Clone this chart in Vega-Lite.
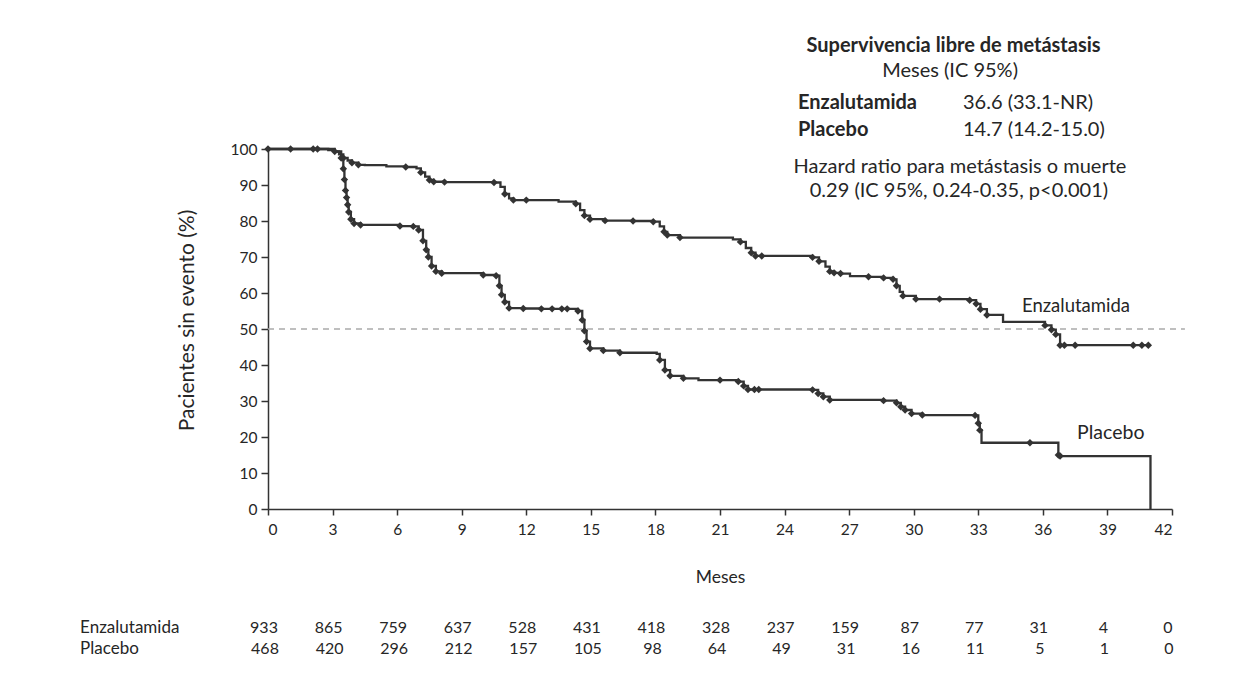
{
  "$schema": "https://vega.github.io/schema/vega-lite/v6.json",
  "width": 904,
  "height": 360,
  "autosize": {"type": "none"},
  "padding": {"left": 268, "top": 149, "right": 86, "bottom": 171},
  "background": "white",
  "config": {"view": {"stroke": null}, "font": "Lato", "text": {"font": "Lato", "color": "#262626", "fontSize": 16, "baseline": "middle"}},
  "datasets": {
    "km": [
      {"group": "Enzalutamida", "t": 0, "s": 100, "c": 1},
      {"group": "Enzalutamida", "t": 1.05, "s": 100, "c": 1},
      {"group": "Enzalutamida", "t": 2.1, "s": 100, "c": 1},
      {"group": "Enzalutamida", "t": 2.3, "s": 100, "c": 1},
      {"group": "Enzalutamida", "t": 2.8, "s": 99.7, "c": 0},
      {"group": "Enzalutamida", "t": 3.1, "s": 99.3, "c": 1},
      {"group": "Enzalutamida", "t": 3.3, "s": 98.5, "c": 0},
      {"group": "Enzalutamida", "t": 3.5, "s": 97.5, "c": 1},
      {"group": "Enzalutamida", "t": 3.7, "s": 96.8, "c": 0},
      {"group": "Enzalutamida", "t": 3.9, "s": 96.2, "c": 1},
      {"group": "Enzalutamida", "t": 4.2, "s": 95.6, "c": 1},
      {"group": "Enzalutamida", "t": 4.5, "s": 95.5, "c": 0},
      {"group": "Enzalutamida", "t": 5.5, "s": 95.2, "c": 0},
      {"group": "Enzalutamida", "t": 6.4, "s": 95.0, "c": 1},
      {"group": "Enzalutamida", "t": 6.9, "s": 94.6, "c": 0},
      {"group": "Enzalutamida", "t": 7.1, "s": 93.5, "c": 1},
      {"group": "Enzalutamida", "t": 7.3, "s": 92.3, "c": 0},
      {"group": "Enzalutamida", "t": 7.5, "s": 91.4, "c": 1},
      {"group": "Enzalutamida", "t": 7.7, "s": 90.9, "c": 1},
      {"group": "Enzalutamida", "t": 8.2, "s": 90.8, "c": 1},
      {"group": "Enzalutamida", "t": 10.5, "s": 90.7, "c": 1},
      {"group": "Enzalutamida", "t": 10.8, "s": 89.5, "c": 0},
      {"group": "Enzalutamida", "t": 11.0, "s": 87.5, "c": 1},
      {"group": "Enzalutamida", "t": 11.2, "s": 86.3, "c": 0},
      {"group": "Enzalutamida", "t": 11.4, "s": 85.8, "c": 1},
      {"group": "Enzalutamida", "t": 12.0, "s": 85.8, "c": 1},
      {"group": "Enzalutamida", "t": 13.5, "s": 85.4, "c": 0},
      {"group": "Enzalutamida", "t": 14.3, "s": 84.8, "c": 1},
      {"group": "Enzalutamida", "t": 14.5, "s": 83.0, "c": 0},
      {"group": "Enzalutamida", "t": 14.7, "s": 81.5, "c": 1},
      {"group": "Enzalutamida", "t": 14.96, "s": 80.5, "c": 1},
      {"group": "Enzalutamida", "t": 15.66, "s": 80.1, "c": 1},
      {"group": "Enzalutamida", "t": 16.96, "s": 80.0, "c": 1},
      {"group": "Enzalutamida", "t": 17.9, "s": 79.8, "c": 1},
      {"group": "Enzalutamida", "t": 18.2, "s": 78.5, "c": 0},
      {"group": "Enzalutamida", "t": 18.4, "s": 77.0, "c": 1},
      {"group": "Enzalutamida", "t": 18.55, "s": 76.1, "c": 1},
      {"group": "Enzalutamida", "t": 19.14, "s": 75.4, "c": 1},
      {"group": "Enzalutamida", "t": 21.6, "s": 74.9, "c": 0},
      {"group": "Enzalutamida", "t": 21.95, "s": 74.2, "c": 1},
      {"group": "Enzalutamida", "t": 22.2, "s": 72.5, "c": 0},
      {"group": "Enzalutamida", "t": 22.45, "s": 71.2, "c": 1},
      {"group": "Enzalutamida", "t": 22.65, "s": 70.3, "c": 1},
      {"group": "Enzalutamida", "t": 22.94, "s": 70.3, "c": 1},
      {"group": "Enzalutamida", "t": 25.3, "s": 69.9, "c": 1},
      {"group": "Enzalutamida", "t": 25.6, "s": 68.8, "c": 1},
      {"group": "Enzalutamida", "t": 25.9, "s": 67.3, "c": 0},
      {"group": "Enzalutamida", "t": 26.1, "s": 66.0, "c": 1},
      {"group": "Enzalutamida", "t": 26.3, "s": 65.6, "c": 1},
      {"group": "Enzalutamida", "t": 26.6, "s": 65.4, "c": 1},
      {"group": "Enzalutamida", "t": 27.04, "s": 64.7, "c": 0},
      {"group": "Enzalutamida", "t": 27.9, "s": 64.5, "c": 1},
      {"group": "Enzalutamida", "t": 28.6, "s": 64.2, "c": 1},
      {"group": "Enzalutamida", "t": 29.04, "s": 63.8, "c": 1},
      {"group": "Enzalutamida", "t": 29.2, "s": 62.0, "c": 1},
      {"group": "Enzalutamida", "t": 29.35, "s": 60.3, "c": 0},
      {"group": "Enzalutamida", "t": 29.5, "s": 59.2, "c": 1},
      {"group": "Enzalutamida", "t": 30.1, "s": 58.3, "c": 1},
      {"group": "Enzalutamida", "t": 31.2, "s": 58.3, "c": 1},
      {"group": "Enzalutamida", "t": 32.6, "s": 58.0, "c": 1},
      {"group": "Enzalutamida", "t": 32.9, "s": 57.0, "c": 1},
      {"group": "Enzalutamida", "t": 33.1, "s": 55.5, "c": 1},
      {"group": "Enzalutamida", "t": 33.4, "s": 53.9, "c": 1},
      {"group": "Enzalutamida", "t": 34.15, "s": 52.0, "c": 0},
      {"group": "Enzalutamida", "t": 36.1, "s": 51.0, "c": 1},
      {"group": "Enzalutamida", "t": 36.4, "s": 49.8, "c": 1},
      {"group": "Enzalutamida", "t": 36.6, "s": 48.5, "c": 1},
      {"group": "Enzalutamida", "t": 36.8, "s": 45.5, "c": 1},
      {"group": "Enzalutamida", "t": 37.0, "s": 45.5, "c": 1},
      {"group": "Enzalutamida", "t": 37.5, "s": 45.5, "c": 1},
      {"group": "Enzalutamida", "t": 40.2, "s": 45.5, "c": 1},
      {"group": "Enzalutamida", "t": 40.6, "s": 45.5, "c": 1},
      {"group": "Enzalutamida", "t": 40.9, "s": 45.5, "c": 1},
      {"group": "Placebo", "t": 0, "s": 100, "c": 0},
      {"group": "Placebo", "t": 3.1, "s": 99.3, "c": 0},
      {"group": "Placebo", "t": 3.4, "s": 97.5, "c": 1},
      {"group": "Placebo", "t": 3.5, "s": 94.5, "c": 1},
      {"group": "Placebo", "t": 3.55, "s": 91.5, "c": 1},
      {"group": "Placebo", "t": 3.6, "s": 88.5, "c": 1},
      {"group": "Placebo", "t": 3.65, "s": 86.5, "c": 1},
      {"group": "Placebo", "t": 3.7, "s": 84.5, "c": 1},
      {"group": "Placebo", "t": 3.75, "s": 82.5, "c": 1},
      {"group": "Placebo", "t": 3.85, "s": 80.5, "c": 1},
      {"group": "Placebo", "t": 4.0, "s": 79.3, "c": 1},
      {"group": "Placebo", "t": 4.3, "s": 78.9, "c": 1},
      {"group": "Placebo", "t": 6.13, "s": 78.6, "c": 1},
      {"group": "Placebo", "t": 6.75, "s": 78.5, "c": 1},
      {"group": "Placebo", "t": 7.0, "s": 77.5, "c": 1},
      {"group": "Placebo", "t": 7.2, "s": 74.5, "c": 1},
      {"group": "Placebo", "t": 7.35, "s": 72.0, "c": 1},
      {"group": "Placebo", "t": 7.45, "s": 70.0, "c": 1},
      {"group": "Placebo", "t": 7.6, "s": 67.5, "c": 1},
      {"group": "Placebo", "t": 7.8, "s": 66.0, "c": 1},
      {"group": "Placebo", "t": 8.07, "s": 65.5, "c": 1},
      {"group": "Placebo", "t": 10.0, "s": 65.0, "c": 1},
      {"group": "Placebo", "t": 10.6, "s": 64.8, "c": 1},
      {"group": "Placebo", "t": 10.75, "s": 62.0, "c": 1},
      {"group": "Placebo", "t": 10.85, "s": 59.5, "c": 1},
      {"group": "Placebo", "t": 11.0, "s": 57.5, "c": 1},
      {"group": "Placebo", "t": 11.2, "s": 55.8, "c": 1},
      {"group": "Placebo", "t": 11.86, "s": 55.7, "c": 1},
      {"group": "Placebo", "t": 12.7, "s": 55.6, "c": 1},
      {"group": "Placebo", "t": 13.2, "s": 55.6, "c": 1},
      {"group": "Placebo", "t": 13.65, "s": 55.6, "c": 1},
      {"group": "Placebo", "t": 13.9, "s": 55.6, "c": 1},
      {"group": "Placebo", "t": 14.4, "s": 55.0, "c": 1},
      {"group": "Placebo", "t": 14.6, "s": 52.5, "c": 1},
      {"group": "Placebo", "t": 14.7, "s": 49.5, "c": 1},
      {"group": "Placebo", "t": 14.8, "s": 46.5, "c": 1},
      {"group": "Placebo", "t": 14.96, "s": 44.6, "c": 1},
      {"group": "Placebo", "t": 15.58, "s": 44.0, "c": 1},
      {"group": "Placebo", "t": 16.35, "s": 43.4, "c": 1},
      {"group": "Placebo", "t": 18.06, "s": 43.1, "c": 0},
      {"group": "Placebo", "t": 18.2, "s": 41.4, "c": 1},
      {"group": "Placebo", "t": 18.44, "s": 38.6, "c": 1},
      {"group": "Placebo", "t": 18.68, "s": 37.0, "c": 1},
      {"group": "Placebo", "t": 19.3, "s": 36.3, "c": 1},
      {"group": "Placebo", "t": 20.0, "s": 35.8, "c": 0},
      {"group": "Placebo", "t": 21.0, "s": 35.8, "c": 1},
      {"group": "Placebo", "t": 21.85, "s": 35.4, "c": 1},
      {"group": "Placebo", "t": 22.1, "s": 34.2, "c": 1},
      {"group": "Placebo", "t": 22.3, "s": 33.2, "c": 1},
      {"group": "Placebo", "t": 22.6, "s": 33.2, "c": 1},
      {"group": "Placebo", "t": 22.8, "s": 33.2, "c": 1},
      {"group": "Placebo", "t": 25.3, "s": 33.1, "c": 1},
      {"group": "Placebo", "t": 25.56, "s": 32.1, "c": 1},
      {"group": "Placebo", "t": 25.8, "s": 31.2, "c": 1},
      {"group": "Placebo", "t": 26.1, "s": 30.3, "c": 1},
      {"group": "Placebo", "t": 28.6, "s": 30.1, "c": 1},
      {"group": "Placebo", "t": 29.2, "s": 29.5, "c": 1},
      {"group": "Placebo", "t": 29.4, "s": 28.4, "c": 1},
      {"group": "Placebo", "t": 29.6, "s": 27.5, "c": 1},
      {"group": "Placebo", "t": 29.9, "s": 26.5, "c": 1},
      {"group": "Placebo", "t": 30.4, "s": 26.1, "c": 1},
      {"group": "Placebo", "t": 32.85, "s": 26.0, "c": 1},
      {"group": "Placebo", "t": 33.0, "s": 23.8, "c": 1},
      {"group": "Placebo", "t": 33.07, "s": 21.9, "c": 1},
      {"group": "Placebo", "t": 33.15, "s": 18.4, "c": 0},
      {"group": "Placebo", "t": 35.4, "s": 18.4, "c": 1},
      {"group": "Placebo", "t": 36.72, "s": 15.0, "c": 1},
      {"group": "Placebo", "t": 36.8, "s": 14.7, "c": 1},
      {"group": "Placebo", "t": 41.0, "s": 0, "c": 0}
    ],
    "risk": [
      {"group": "Enzalutamida", "t": 0, "n": 933}, {"group": "Enzalutamida", "t": 3, "n": 865},
      {"group": "Enzalutamida", "t": 6, "n": 759}, {"group": "Enzalutamida", "t": 9, "n": 637},
      {"group": "Enzalutamida", "t": 12, "n": 528}, {"group": "Enzalutamida", "t": 15, "n": 431},
      {"group": "Enzalutamida", "t": 18, "n": 418}, {"group": "Enzalutamida", "t": 21, "n": 328},
      {"group": "Enzalutamida", "t": 24, "n": 237}, {"group": "Enzalutamida", "t": 27, "n": 159},
      {"group": "Enzalutamida", "t": 30, "n": 87}, {"group": "Enzalutamida", "t": 33, "n": 77},
      {"group": "Enzalutamida", "t": 36, "n": 31}, {"group": "Enzalutamida", "t": 39, "n": 4},
      {"group": "Enzalutamida", "t": 42, "n": 0},
      {"group": "Placebo", "t": 0, "n": 468}, {"group": "Placebo", "t": 3, "n": 420},
      {"group": "Placebo", "t": 6, "n": 296}, {"group": "Placebo", "t": 9, "n": 212},
      {"group": "Placebo", "t": 12, "n": 157}, {"group": "Placebo", "t": 15, "n": 105},
      {"group": "Placebo", "t": 18, "n": 98}, {"group": "Placebo", "t": 21, "n": 64},
      {"group": "Placebo", "t": 24, "n": 49}, {"group": "Placebo", "t": 27, "n": 31},
      {"group": "Placebo", "t": 30, "n": 16}, {"group": "Placebo", "t": 33, "n": 11},
      {"group": "Placebo", "t": 36, "n": 5}, {"group": "Placebo", "t": 39, "n": 1},
      {"group": "Placebo", "t": 42, "n": 0}
    ],
    "one": [{}]
  },
  "layer": [
    {
      "data": {"name": "one"},
      "mark": {"type": "rule", "color": "#aaaaaa", "strokeDash": [6, 5], "strokeWidth": 1.6},
      "encoding": {"y": {"datum": 50}, "x": {"datum": 0}, "x2": {"datum": 42.6}}
    },
    {
      "data": {"name": "km"},
      "mark": {"type": "line", "interpolate": "step-after", "color": "#333333", "strokeWidth": 2.3},
      "encoding": {
        "x": {"field": "t", "type": "quantitative", "scale": {"domain": [0, 42], "nice": false, "zero": false},
          "axis": {"values": [0,3,6,9,12,15,18,21,24,27,30,33,36,39,42], "labelOverlap": false, "grid": false, "domainColor": "#333333", "domainWidth": 1.5, "tickColor": "#333333", "tickWidth": 1.5, "tickSize": 6, "labelPadding": 7, "labelFontSize": 15.5, "labelColor": "#262626", "labelFont": "Lato", "title": "Meses", "titleFont": "Lato", "titleFontSize": 17.5, "titleFontWeight": "normal", "titleColor": "#262626", "titlePadding": 31}},
        "y": {"field": "s", "type": "quantitative", "scale": {"domain": [0, 100], "nice": false, "zero": false},
          "axis": {"values": [0,10,20,30,40,50,60,70,80,90,100], "tickCount": 11, "labelOverlap": false, "grid": false, "domainColor": "#333333", "domainWidth": 1.5, "tickColor": "#333333", "tickWidth": 1.5, "tickSize": 7, "labelPadding": 4, "labelFontSize": 15.5, "labelColor": "#262626", "labelFont": "Lato", "title": "Pacientes sin evento (%)", "titleFont": "Lato", "titleFontSize": 21, "titleFontWeight": "normal", "titleColor": "#262626", "titlePadding": 33, "titleY": 171}},
        "detail": {"field": "group"}
      }
    },
    {
      "data": {"name": "km"},
      "transform": [{"filter": "datum.c == 1"}],
      "mark": {"type": "point", "shape": "diamond", "filled": true, "size": 55, "color": "#333333", "opacity": 1},
      "encoding": {
        "x": {"field": "t", "type": "quantitative"},
        "y": {"field": "s", "type": "quantitative", "axis": {"values": [0,10,20,30,40,50,60,70,80,90,100], "tickCount": 11, "labelOverlap": false}}
      }
    },
    {
      "data": {"name": "risk"},
      "transform": [{"filter": "datum.group == 'Enzalutamida'"}],
      "mark": {"type": "text", "align": "center", "dx": -4, "fontSize": 16},
      "encoding": {"x": {"field": "t", "type": "quantitative"}, "y": {"datum": -33.1}, "text": {"field": "n"}}
    },
    {
      "data": {"name": "risk"},
      "transform": [{"filter": "datum.group == 'Placebo'"}],
      "mark": {"type": "text", "align": "center", "dx": -3, "fontSize": 16},
      "encoding": {"x": {"field": "t", "type": "quantitative"}, "y": {"datum": -38.8}, "text": {"field": "n"}}
    },
    {"data": {"name": "one"}, "mark": {"type": "text", "align": "left", "fontSize": 17}, "encoding": {"x": {"datum": -8.73}, "y": {"datum": -33.1}, "text": {"value": "Enzalutamida"}}},
    {"data": {"name": "one"}, "mark": {"type": "text", "align": "left", "fontSize": 17}, "encoding": {"x": {"datum": -8.73}, "y": {"datum": -38.8}, "text": {"value": "Placebo"}}},
    {"data": {"name": "one"}, "mark": {"type": "text", "align": "left", "fontSize": 18.5}, "encoding": {"x": {"datum": 35.03}, "y": {"datum": 56.5}, "text": {"value": "Enzalutamida"}}},
    {"data": {"name": "one"}, "mark": {"type": "text", "align": "left", "fontSize": 19.5}, "encoding": {"x": {"datum": 37.59}, "y": {"datum": 21.1}, "text": {"value": "Placebo"}}},
    {"data": {"name": "one"}, "mark": {"type": "text", "align": "center", "fontSize": 20, "fontWeight": "bold"}, "encoding": {"x": {"datum": 31.85}, "y": {"datum": 128.6}, "text": {"value": "Supervivencia libre de metástasis"}}},
    {"data": {"name": "one"}, "mark": {"type": "text", "align": "center", "fontSize": 20}, "encoding": {"x": {"datum": 31.69}, "y": {"datum": 121.7}, "text": {"value": "Meses (IC 95%)"}}},
    {"data": {"name": "one"}, "mark": {"type": "text", "align": "left", "fontSize": 20, "fontWeight": "bold"}, "encoding": {"x": {"datum": 24.62}, "y": {"datum": 112.8}, "text": {"value": "Enzalutamida"}}},
    {"data": {"name": "one"}, "mark": {"type": "text", "align": "left", "fontSize": 20}, "encoding": {"x": {"datum": 32.29}, "y": {"datum": 112.8}, "text": {"value": "36.6 (33.1-NR)"}}},
    {"data": {"name": "one"}, "mark": {"type": "text", "align": "left", "fontSize": 20, "fontWeight": "bold"}, "encoding": {"x": {"datum": 24.62}, "y": {"datum": 105.3}, "text": {"value": "Placebo"}}},
    {"data": {"name": "one"}, "mark": {"type": "text", "align": "left", "fontSize": 20}, "encoding": {"x": {"datum": 32.29}, "y": {"datum": 105.3}, "text": {"value": "14.7 (14.2-15.0)"}}},
    {"data": {"name": "one"}, "mark": {"type": "text", "align": "center", "fontSize": 20}, "encoding": {"x": {"datum": 32.15}, "y": {"datum": 95.0}, "text": {"value": "Hazard ratio para metástasis o muerte"}}},
    {"data": {"name": "one"}, "mark": {"type": "text", "align": "center", "fontSize": 20}, "encoding": {"x": {"datum": 32.1}, "y": {"datum": 88.3}, "text": {"value": "0.29 (IC 95%, 0.24-0.35, p<0.001)"}}}
  ]
}
